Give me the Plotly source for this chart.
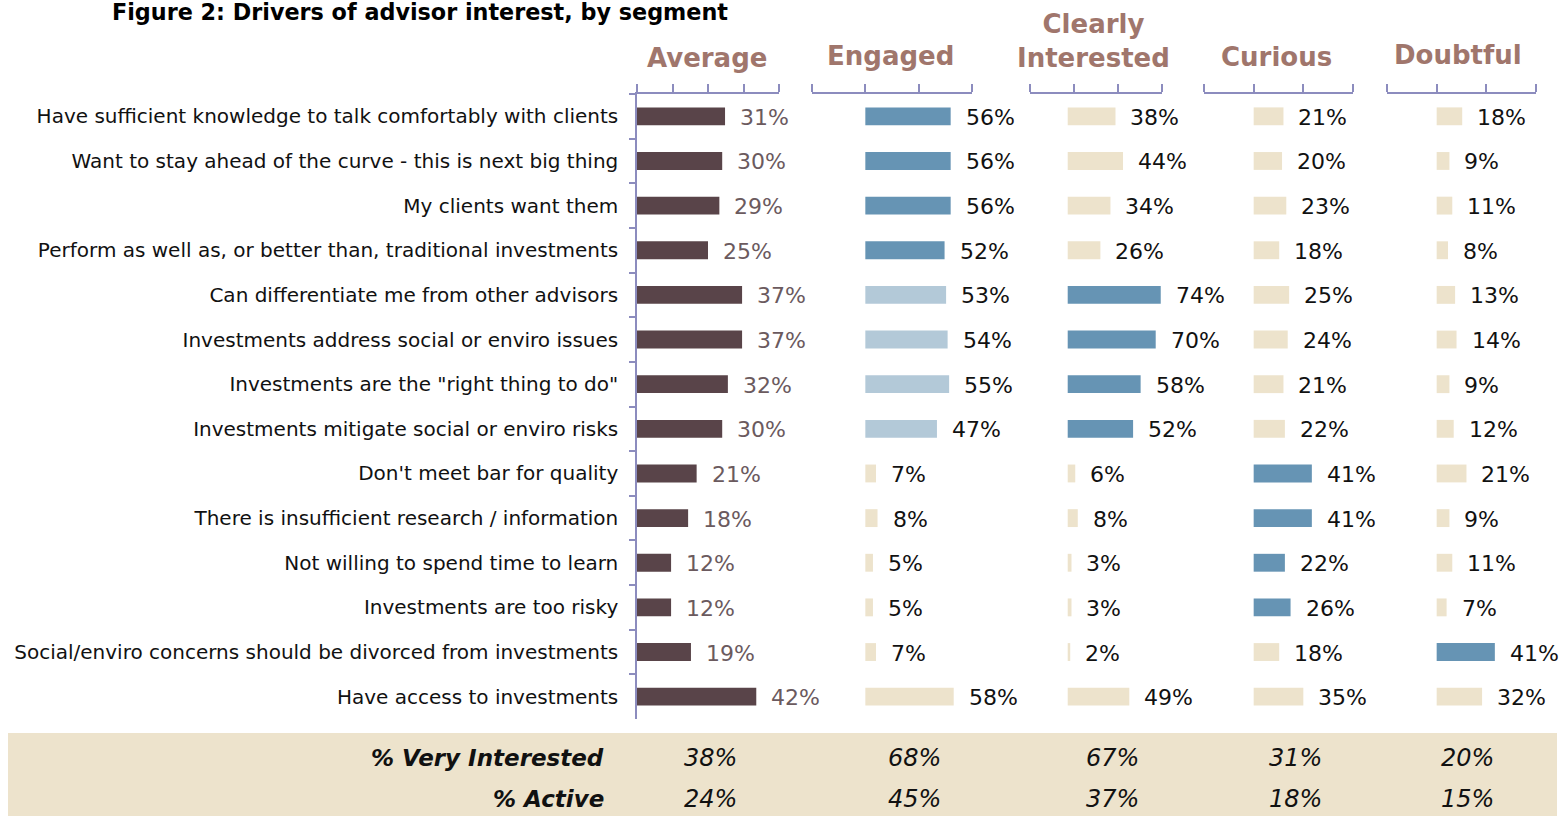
import plotly.graph_objects as go

W, H = 1559, 816

categories = [
    "Have sufficient knowledge to talk comfortably with clients",
    "Want to stay ahead of the curve - this is next big thing",
    "My clients want them",
    "Perform as well as, or better than, traditional investments",
    "Can differentiate me from other advisors",
    "Investments address social or enviro issues",
    "Investments are the \"right thing to do\"",
    "Investments mitigate social or enviro risks",
    "Don't meet bar for quality",
    "There is insufficient research / information",
    "Not willing to spend time to learn",
    "Investments are too risky",
    "Social/enviro concerns should be divorced from investments",
    "Have access to investments",
]
segments = ["Average", "Engaged", "Clearly<br>Interested", "Curious", "Doubtful"]

average = [31, 30, 29, 25, 37, 37, 32, 30, 21, 18, 12, 12, 19, 42]
engaged = [56, 56, 56, 52, 53, 54, 55, 47, 7, 8, 5, 5, 7, 58]
clearly = [38, 44, 34, 26, 74, 70, 58, 52, 6, 8, 3, 3, 2, 49]
curious = [21, 20, 23, 18, 25, 24, 21, 22, 41, 41, 22, 26, 18, 35]
doubtful = [18, 9, 11, 8, 13, 14, 9, 12, 21, 9, 11, 7, 41, 32]

very_interested = [38, 68, 67, 31, 20]
active = [24, 45, 37, 18, 15]

DARK = "#594449"
BLUE = "#6694b4"
LIGHT = "#b3c9d8"
BEIGE = "#ede3cc"
HEAD = "#a0766c"
AXIS = "#8c8cbe"
FONT = "Verdana, DejaVu Sans, sans-serif"

# rows drawn in the strong / light highlight per segment panel
strong_rows = {1: range(0, 4), 2: range(4, 8), 3: range(8, 12), 4: [12]}
light_rows = {1: range(4, 8)}


def fx(px):
    return px / W


def fy(py):
    return 1 - py / H


# panel axis geometry: left px, right px, range, tick values
panels = [
    (637, 779, [0, 50], [0, 12.5, 25, 37.5, 50]),
    (812, 972, [-35, 70], [-35, 0, 35, 70]),
    (1030, 1162, [-30, 75], [-30, 5, 40, 75]),
    (1204, 1353, [-35, 70], [-35, 0, 35, 70]),
    (1387, 1536, [-35, 70], [-35, 0, 35, 70]),
]
head_x = [707, 891, 1093, 1276, 1458]
head_y = [58, 56, 41, 57, 55]
foot_x = [710, 914, 1112, 1295, 1467]

series = [average, engaged, clearly, curious, doubtful]

fig = go.Figure()
annotations = []

for i, vals in enumerate(series):
    xname = "x" if i == 0 else f"x{i + 1}"
    if i == 0:
        colors = [DARK] * len(vals)
    else:
        colors = [BEIGE] * len(vals)
        for r in light_rows.get(i, []):
            colors[r] = LIGHT
        for r in strong_rows.get(i, []):
            colors[r] = BLUE
    fig.add_trace(go.Bar(
        x=vals,
        y=categories,
        orientation="h",
        marker=dict(color=colors, line=dict(width=0)),
        xaxis=xname,
        yaxis="y",
        hoverinfo="x+y",
        showlegend=False))
    for cat, v in zip(categories, vals):
        annotations.append(dict(
            x=v, y=cat, xref=xname, yref="y",
            text=f"{v}%", showarrow=False,
            xanchor="left", yanchor="middle", xshift=13, yshift=-1,
            font=dict(family=FONT, size=22, color="#6b5a5e" if i == 0 else "#111111")))

    left, right, rng, ticks = panels[i]
    axis = dict(
        domain=[fx(left), fx(right)],
        range=rng,
        side="top",
        anchor="y",
        showline=True,
        linecolor=AXIS,
        linewidth=1.5,
        ticks="outside",
        ticklen=8,
        tickcolor=AXIS,
        tickwidth=1.5,
        tickvals=ticks,
        showticklabels=False,
        showgrid=False,
        zeroline=False,
        fixedrange=True)
    fig.update_layout(**{("xaxis" if i == 0 else f"xaxis{i + 1}"): axis})

    annotations.append(dict(
        x=fx(head_x[i]), y=fy(head_y[i]), xref="paper", yref="paper",
        text=f"<b>{segments[i]}</b>", showarrow=False,
        xanchor="center", yanchor="middle",
        font=dict(family=FONT, size=26, color=HEAD)))

    for vals2, py in ((very_interested, 758), (active, 799)):
        annotations.append(dict(
            x=fx(foot_x[i]), y=fy(py), xref="paper", yref="paper",
            text=f"<i>{vals2[i]}%</i>", showarrow=False,
            xanchor="center", yanchor="middle",
            font=dict(family=FONT, size=24, color="#111111")))

annotations.append(dict(
    x=fx(110), y=fy(12), xref="paper", yref="paper",
    text="<b>Figure 2: Drivers of advisor interest, by segment</b>", showarrow=False,
    xanchor="left", yanchor="middle",
    font=dict(family=FONT, size=22.3, color="#000000")))
for label, py in (("% Very Interested", 758), ("% Active", 799)):
    annotations.append(dict(
        x=fx(606), y=fy(py), xref="paper", yref="paper",
        text=f"<b><i>{label}</i></b>", showarrow=False,
        xanchor="right", yanchor="middle",
        font=dict(family=FONT, size=23, color="#111111")))

fig.update_layout(
    width=W,
    height=H,
    margin=dict(l=0, r=0, t=0, b=0),
    paper_bgcolor="white",
    plot_bgcolor="rgba(0,0,0,0)",
    bargap=0.6,
    font=dict(family=FONT, size=18, color="#111111"),
    yaxis=dict(
        domain=[fy(719), fy(94)],
        autorange="reversed",
        anchor="x",
        showline=True,
        linecolor=AXIS,
        linewidth=1.5,
        ticks="outside",
        tickson="boundaries",
        ticklen=6,
        tickcolor=AXIS,
        tickwidth=1.5,
        ticklabelstandoff=13,
        tickfont=dict(family=FONT, size=20, color="#111111"),
        showgrid=False,
        zeroline=False,
        fixedrange=True),
    shapes=[dict(
        type="rect", xref="paper", yref="paper",
        x0=fx(8), x1=fx(1557), y0=fy(816), y1=fy(733),
        fillcolor=BEIGE, line=dict(width=0), layer="below")],
    annotations=annotations)

# the page body has a default 8px margin; drop it so the figure fills the window
fig.write_html(
    "out.html",
    config={"displayModeBar": False},
    post_script="document.body.style.margin='0';")
